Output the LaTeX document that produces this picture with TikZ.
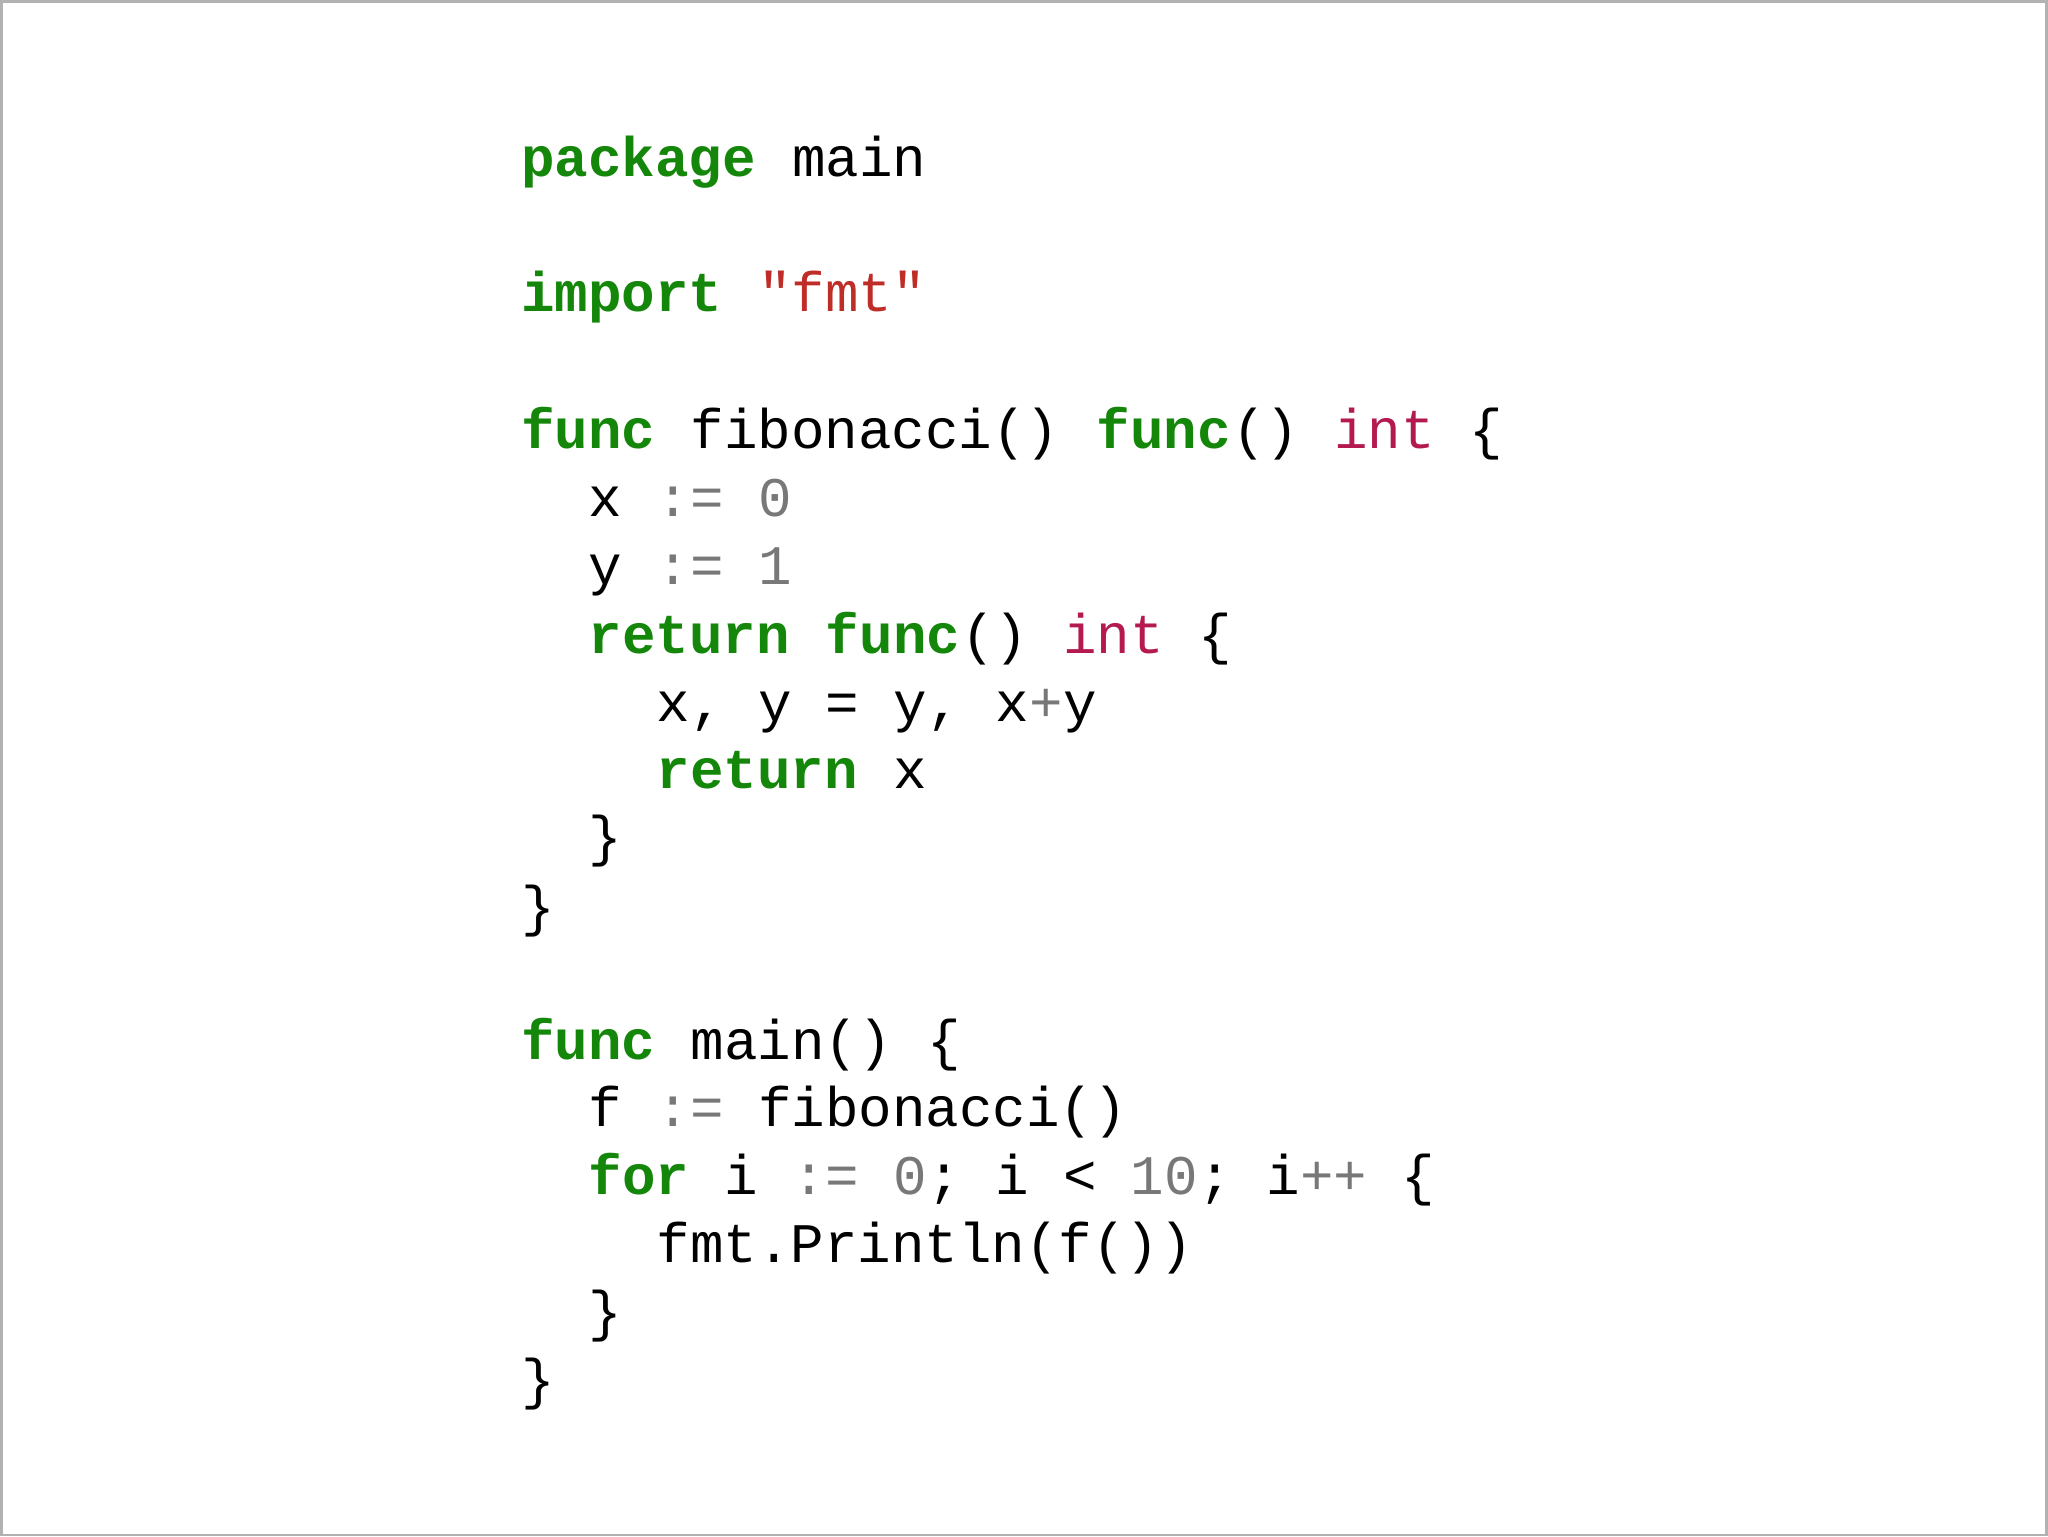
\documentclass[tikz,border=0pt]{standalone}
\usepackage{fontspec}
\newfontfamily\codefont{Liberation Mono}
\definecolor{kw}{RGB}{20,135,10}
\definecolor{ty}{RGB}{180,25,80}
\definecolor{st}{RGB}{190,45,40}
\definecolor{op}{RGB}{120,120,120}
\tikzset{code/.style={anchor=base west,inner sep=0pt,font=\codefont\fontsize{15.9}{19}\selectfont}}
\newcommand\tk[4][black]{\node[code,text=#1] at ({520+#2*33.9},#3) {#4};}
\newcommand\kw[3]{\node[code,text=kw,font=\codefont\bfseries\fontsize{15.9}{19}\selectfont] at ({520+#1*33.9},#2) {#3};}
\begin{document}
\begin{tikzpicture}[x=0.01cm,y=-0.01cm]
\draw[gray!60,line width=0.8pt] (0.5,0.5) rectangle (2047.5,1535.5);
\useasboundingbox (0,0) rectangle (2048,1536);
\kw{0}{176}{package}\tk{8}{176}{main}
\kw{0}{311}{import}\tk[st]{7}{311}{"fmt"}
\kw{0}{448}{func}\tk{5}{448}{fibonacci()}\kw{17}{448}{func}\tk{21}{448}{()}\tk[ty]{24}{448}{int}\tk{28}{448}{\{}
\tk{2}{516}{x}\tk[op]{4}{516}{:=}\tk[op]{7}{516}{0}
\tk{2}{584}{y}\tk[op]{4}{584}{:=}\tk[op]{7}{584}{1}
\kw{2}{653}{return}\kw{9}{653}{func}\tk{13}{653}{()}\tk[ty]{16}{653}{int}\tk{20}{653}{\{}
\tk{4}{721}{x,}\tk{7}{721}{y}\tk{9}{721}{=}\tk{11}{721}{y,}\tk{14}{721}{x}\tk[op]{15}{721}{+}\tk{16}{721}{y}
\kw{4}{788}{return}\tk{11}{788}{x}
\tk{2}{855}{\}}
\tk{0}{925}{\}}
\kw{0}{1060}{func}\tk{5}{1060}{main()}\tk{12}{1060}{\{}
\tk{2}{1127}{f}\tk[op]{4}{1127}{:=}\tk{7}{1127}{fibonacci()}
\kw{2}{1195}{for}\tk{6}{1195}{i}\tk[op]{8}{1195}{:=}\tk[op]{11}{1195}{0}\tk{12}{1195}{;}\tk{14}{1195}{i}\tk{16}{1195}{<}\tk[op]{18}{1195}{10}\tk{20}{1195}{;}\tk{22}{1195}{i}\tk[op]{23}{1195}{++}\tk{26}{1195}{\{}
\tk{4}{1263}{fmt.Println(f())}
\tk{2}{1331}{\}}
\tk{0}{1399}{\}}
\end{tikzpicture}
\end{document}
